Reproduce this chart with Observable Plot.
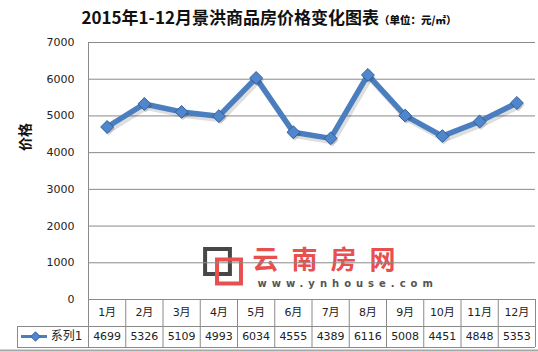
<!DOCTYPE html>
<html>
<head>
<meta charset="utf-8">
<script src="https://cdn.jsdelivr.net/npm/d3@7"></script>
<script src="https://cdn.jsdelivr.net/npm/@observablehq/plot@0.6"></script>
<style>
  html, body { margin: 0; padding: 0; background: #fff; }
  #wrap { width: 538px; height: 352px; position: relative; overflow: hidden; }
  #title { height: 32px; line-height: 34px; text-align: center; font-family: "Noto Sans CJK SC", sans-serif; font-weight: bold; color: #111; white-space: nowrap; }
  #title .main { font-size: 17px; }
  #title .unit { font-size: 10.5px; font-weight: 900; }
</style>
</head>
<body>
<div id="wrap">
  <div id="title"><span class="main">2015年1-12月景洪商品房价格变化图表</span><span class="unit">（单位：元/㎡）</span></div>
  <div id="chart"></div>
</div>
<script>
const months = ["1月","2月","3月","4月","5月","6月","7月","8月","9月","10月","11月","12月"];
const prices = [4699, 5326, 5109, 4993, 6034, 4555, 4389, 6116, 5008, 4451, 4848, 5353];
const seriesName = "系列1";
const yTicks = [0, 1000, 2000, 3000, 4000, 5000, 6000, 7000];
const yLabel = "价格";
const watermark = "云南房网";
const watermarkUrl = "www.ynhouse.com";

const data = months.map((m, i) => ({month: m, idx: i + 1, price: prices[i]}));
const bounds = d3.range(0, months.length + 1).map(i => i + 0.5);

const W = 538, H = 320, mt = 10, mb = 53, ml = 88, mr = 3;
const frameH = H - mt - mb;
const grid = "#8a8a8a";
const blue = "#4a7ebf";
const font = "DejaVu Sans, 'Noto Sans CJK SC', sans-serif";

const chart = Plot.plot({
  width: W, height: H,
  marginTop: mt, marginBottom: mb, marginLeft: ml, marginRight: mr,
  style: {fontFamily: font, fontSize: "11px", color: "#222", background: "#fff", overflow: "visible"},
  x: {type: "linear", domain: [0.5, months.length + 0.5], axis: null},
  y: {domain: [0, 7000], ticks: yTicks, tickSize: 0, tickPadding: 14, tickFormat: d => String(d), label: null},
  marks: [
    // watermark
    Plot.dot([0], {x: () => 0.5, y: () => 0, dx: 129, dy: -38, symbol: "square", r: 14, fill: "none", stroke: "#474747", strokeWidth: 4}),
    Plot.dot([0], {x: () => 0.5, y: () => 0, dx: 140.5, dy: -28, symbol: "square", r: 13.5, fill: "none", stroke: "#e8504f", strokeWidth: 4}),
    Plot.text([watermark], {x: () => 0.5, y: () => 0, text: d => d, dx: 164, dy: -39, lineAnchor: "middle", textAnchor: "start", fontSize: 26, fontWeight: "bold", fill: "#e8504f", fontFamily: "'Noto Sans CJK SC', sans-serif"}),
    Plot.text([watermarkUrl], {x: () => 0.5, y: () => 0, text: d => d, dx: 169, dy: -16, lineAnchor: "middle", textAnchor: "start", fontSize: 10, fontWeight: "bold", fill: "#555"}),
    // grid
    Plot.ruleY(yTicks.filter(d => d > 0), {stroke: grid, strokeWidth: 1}),
    Plot.ruleY([0], {stroke: grid, strokeWidth: 1}),
    Plot.ruleX([0.5], {stroke: grid, strokeWidth: 1}),
    Plot.axisY({ticks: yTicks, tickSize: 0, tickPadding: 14, tickFormat: d => String(d), label: null, fontSize: 11}),
    Plot.text([yLabel], {frameAnchor: "left", text: d => d, dx: -63, dy: -20, rotate: -90, fontSize: 14, fontWeight: "bold", fill: "#111", fontFamily: "'Noto Sans CJK SC', sans-serif"}),
    // data table
    Plot.ruleX(bounds, {x: d => d, insetTop: frameH, insetBottom: -48, stroke: grid}),
    Plot.ruleX([0.5], {x: d => d, dx: -71, insetTop: frameH + 27, insetBottom: -48, stroke: grid}),
    Plot.ruleY([0], {dy: 27, insetLeft: -71, stroke: grid}),
    Plot.ruleY([0], {dy: 48, insetLeft: -71, stroke: grid}),
    Plot.ruleY([0], {dy: 51, insetLeft: -ml, insetRight: -mr, stroke: "#a8a8a8", strokeWidth: 2}),
    Plot.text(data, {x: "idx", text: "month", frameAnchor: "bottom", lineAnchor: "middle", dy: 13, fontSize: 11, fill: "#222"}),
    Plot.text(data, {x: "idx", text: d => String(d.price), frameAnchor: "bottom", lineAnchor: "middle", dy: 37, fontSize: 11, fill: "#222"}),
    // legend key in table
    Plot.ruleY([0], {dy: 37, insetLeft: -67, insetRight: W - mr - 47, stroke: blue, strokeWidth: 3}),
    Plot.dot([0], {x: () => 0.5, y: () => 0, dx: -53, dy: 37, symbol: "diamond2", r: 4.2, fill: "#4f86cc", stroke: "#30609e", strokeWidth: 1}),
    Plot.text([seriesName], {x: () => 0.5, y: () => 0, text: d => d, dx: -6, dy: 37, lineAnchor: "middle", textAnchor: "end", fontSize: 12, fill: "#222"}),
    // series
    Plot.line(data, {x: "idx", y: "price", dx: 2, dy: 3, stroke: "#000", strokeOpacity: 0.13, strokeWidth: 6, strokeLinejoin: "round"}),
    Plot.line(data, {x: "idx", y: "price", stroke: blue, strokeWidth: 5.5, strokeLinejoin: "round"}),
    Plot.dot(data, {x: "idx", y: "price", symbol: "diamond2", r: 5.8, dx: 1.5, dy: 2, fill: "#000", fillOpacity: 0.15, stroke: "none"}),
    Plot.dot(data, {x: "idx", y: "price", symbol: "diamond2", r: 5.8, fill: "#4f86cc", stroke: "#2f5f9d", strokeWidth: 1})
  ]
});
// letter spacing for the watermark texts
d3.select(chart).selectAll("text").each(function() {
  const t = this.textContent;
  if (t === watermark) this.setAttribute("letter-spacing", "13");
  if (t === watermarkUrl) this.setAttribute("letter-spacing", "5");
});
document.getElementById("chart").appendChild(chart);
</script>
</body>
</html>
